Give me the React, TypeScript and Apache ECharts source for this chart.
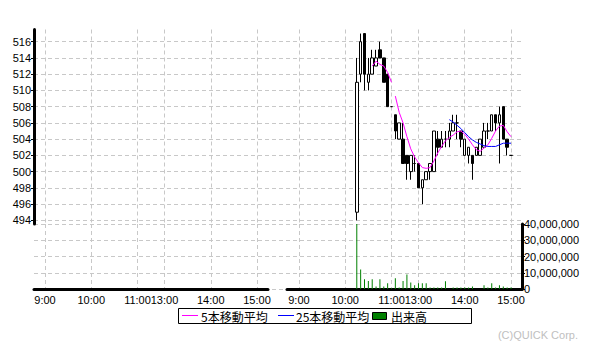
import React, { useEffect, useRef } from 'react';
import * as echarts from 'echarts';

// time axis: 5-minute slots, 9:00 = 0, 11:00 = 24, 12:30 = 25, 15:00 = 55
const timeTickSlots = [0, 12, 24, 31, 43, 55];
const timeTickLabels = ['9:00', '10:00', '11:00', '13:00', '14:00', '15:00'];
const priceTicks = [494, 496, 498, 500, 502, 504, 506, 508, 510, 512, 514, 516];

const candleSlots = [15, 16, 17, 18, 19, 20, 21, 22, 23, 24,
  25, 26, 27, 28, 29, 30, 31, 32, 33, 34, 35, 36, 37, 38, 39, 40,
  41, 42, 43, 44, 45, 46, 47, 48, 49, 50, 51, 52, 53, 54, 55];
const openPrices = [495, 512, 517, 511, 512, 513, 515, 514, 512, 508,
  507, 504, 504, 502, 500, 501, 501, 498, 499, 500, 500, 504, 503, 504, 504, 505,
  506, 505, 502, 502, 502, 502, 502, 503, 505, 505, 507, 506, 508, 504, 502];
const closePrices = [511, 516, 512, 512, 514, 514, 514, 511, 508, 508,
  505, 506, 501, 501, 502, 501, 498, 499, 500, 501, 505, 503, 504, 504, 505, 506,
  506, 504, 504, 503, 501, 503, 504, 505, 505, 507, 506, 507, 504, 503, 502];
const lowPrices = [494, 511, 510, 510, 512, 513, 514, 511, 508, 508,
  504, 504, 501, 499, 499, 500, 498, 496, 499, 499, 500, 502, 503, 503, 503, 505,
  504, 503, 502, 501, 499, 502, 502, 503, 504, 505, 505, 501, 504, 502, 502];
const highPrices = [514, 517, 517, 514, 515, 515, 516, 514, 512, 508,
  507, 506, 506, 502, 502, 502, 501, 499, 500, 501, 505, 505, 505, 505, 506, 507,
  507, 505, 504, 503, 502, 503, 504, 506, 506, 507, 507, 508, 508, 504, 502];

const volumeSlots = [15, 16, 17, 18, 19, 20, 21, 22, 23, 24,
  25, 26, 27, 28, 29, 30, 31, 32, 33, 34, 35, 36, 37, 38,
  40, 41, 42, 43, 44, 45, 48, 49, 50, 51, 52, 53, 54, 55];
const volumes = [40000000, 12000000, 6000000, 5000000, 6000000, 1600000, 6000000, 1600000, 3500000, 500000,
  6600000, 1000000, 5000000, 9000000, 4000000, 2300000, 3500000, 3500000, 3500000, 1000000, 1000000, 1000000, 1000000, 4700000,
  1000000, 1000000, 1000000, 1000000, 1000000, 1600000, 2300000, 1000000, 3500000, 1000000, 2300000, 1600000, 1000000, 1000000];

const ma5Slots = [19, 20, 21, 22, 23, 24, 24.5,
  25, 26, 27, 28, 29, 30, 31, 32, 33, 34, 35, 36, 37, 38, 39, 40,
  41, 42, 43, 44, 45, 46, 47, 48, 49, 50, 51, 52, 53, 54, 55];
const ma5Values = [513.0, 513.6, 513.2, 513.0, 512.2, 511.0, null,
  509.3, 507.3, 506.0, 504.3, 502.8, 501.8, 501.1, 500.5, 500.4, 500.5, 501.3, 502.3, 503.1, 503.8, 504.2, 504.5,
  504.9, 505.0, 504.6, 504.0, 503.3, 502.7, 502.5, 502.9, 503.3, 504.1, 505.0, 505.6, 505.7, 504.9, 504.3];

const ma25Slots = [39, 40, 41, 42, 43, 44, 45, 46, 47, 48, 49, 50, 51, 52, 53, 54, 55];
const ma25Values = [506.4, 506.1, 505.7, 505.3, 504.8, 504.3, 503.9, 503.6, 503.4, 503.2,
  503.1, 503.1, 503.1, 503.3, 503.5, 503.5, 503.5];

const legendLabels = ['5本移動平均', '25本移動平均', '出来高'];
const copyright = '(C)QUICK Corp.';

const FONT = "'Liberation Sans', Arial, sans-serif";
const CJK = "'Noto Sans CJK JP', 'Liberation Sans', sans-serif";
const GRID_LINE = { color: '#c8c8c8', type: [4, 3] as any, width: 1 };
const PRICE_MIN = 493.55;
const PRICE_MAX = 517.5;
const X_MAX = 57.85;

function timeLabel(v: number) {
  const i = timeTickSlots.indexOf(Math.round(v));
  return i >= 0 ? timeTickLabels[i] : '';
}

function dayXAxis(gridIndex: number, min: number, withAxis: boolean) {
  return {
    type: 'value', gridIndex, min, max: X_MAX,
    axisLine: { show: withAxis, onZero: false, lineStyle: { color: '#000', width: 3 } },
    axisTick: { show: false, customValues: timeTickSlots },
    axisLabel: {
      show: withAxis, customValues: timeTickSlots, formatter: timeLabel,
      fontSize: 11, color: '#000', fontFamily: FONT, margin: 5,
    },
    splitLine: { show: true, lineStyle: GRID_LINE },
  };
}

export default function App() {
  const ref = useRef<HTMLDivElement>(null);
  useEffect(() => {
    if (!ref.current) return;
    const chart = echarts.init(ref.current, undefined, { renderer: 'svg' });
    const grids = [
      { left: 34, top: 29.5, width: 488, height: 194.5 },
      { left: 34, top: 29.5, width: 234, height: 194.5 },
      { left: 287, top: 29.5, width: 235, height: 194.5 },
      { left: 34, top: 224, width: 488, height: 65 },
      { left: 34, top: 224, width: 234, height: 65 },
      { left: 287, top: 224, width: 235, height: 65 },
    ].map(g => ({ ...g, outerBoundsMode: 'none', containLabel: false }));

    const option: any = {
      animation: false,
      backgroundColor: '#fff',
      grid: grids,
      xAxis: [
        { type: 'value', gridIndex: 0, min: 0, max: 1, show: false },
        dayXAxis(1, -2.85, false),
        dayXAxis(2, -3.1, false),
        { type: 'value', gridIndex: 3, min: 0, max: 1, show: false },
        dayXAxis(4, -2.85, true),
        dayXAxis(5, -3.1, true),
      ],
      yAxis: [
        {
          type: 'value', gridIndex: 0, min: PRICE_MIN, max: PRICE_MAX,
          axisLine: { show: false, onZero: false }, axisTick: { show: false, customValues: priceTicks },
          axisLabel: { show: false, customValues: priceTicks },
          splitLine: { show: true, lineStyle: GRID_LINE },
        },
        {
          type: 'value', gridIndex: 1, min: PRICE_MIN, max: PRICE_MAX, position: 'left',
          axisLine: { show: true, onZero: false, lineStyle: { color: '#000', width: 3 } },
          axisTick: { show: true, length: 3, customValues: priceTicks, lineStyle: { color: '#000', width: 1 } },
          axisLabel: { show: true, customValues: priceTicks, fontSize: 11, color: '#000', fontFamily: FONT, margin: 3 },
          splitLine: { show: false },
        },
        { type: 'value', gridIndex: 2, min: PRICE_MIN, max: PRICE_MAX, show: false, axisLine: { onZero: false } },
        {
          type: 'value', gridIndex: 3, min: 0, max: 40000000, interval: 10000000,
          axisLine: { show: false, onZero: false }, axisTick: { show: false }, axisLabel: { show: false },
          splitLine: { show: true, lineStyle: GRID_LINE },
        },
        { type: 'value', gridIndex: 4, min: 0, max: 40000000, show: false, axisLine: { onZero: false } },
        {
          type: 'value', gridIndex: 5, min: 0, max: 40000000, interval: 10000000, position: 'right',
          axisLine: { show: true, onZero: false, lineStyle: { color: '#000', width: 3 } },
          axisTick: { show: true, length: 3, lineStyle: { color: '#000', width: 1 } },
          axisLabel: {
            show: true, fontSize: 11, color: '#000', fontFamily: FONT, margin: 2,
            formatter: (v: number) => v.toLocaleString('en-US'),
          },
          splitLine: { show: false },
        },
      ],
      series: [
        {
          type: 'candlestick', xAxisIndex: 2, yAxisIndex: 2, barWidth: 3,
          data: candleSlots.map((s, i) => [s, openPrices[i], closePrices[i], lowPrices[i], highPrices[i]]),
          itemStyle: {
            color: '#fff', color0: '#000', borderColor: '#000', borderColor0: '#000',
            borderColorDoji: '#000', borderWidth: 1,
          },
        },
        {
          type: 'line', name: legendLabels[0], xAxisIndex: 2, yAxisIndex: 2, symbol: 'none',
          connectNulls: false,
          data: ma5Slots.map((s, i) => [s, ma5Values[i]]),
          lineStyle: { color: '#ff00ff', width: 1 },
        },
        {
          type: 'line', name: legendLabels[1], xAxisIndex: 2, yAxisIndex: 2, symbol: 'none',
          data: ma25Slots.map((s, i) => [s, ma25Values[i]]),
          lineStyle: { color: '#0000ff', width: 1 },
        },
        {
          type: 'bar', name: legendLabels[2], xAxisIndex: 5, yAxisIndex: 5, barWidth: 1,
          data: volumeSlots.map((s, i) => [s, volumes[i]]),
          itemStyle: { color: '#008000' },
        },
      ],
      graphic: [
        { type: 'rect', shape: { x: 178.5, y: 308.5, width: 293, height: 15 }, style: { fill: '#fff', stroke: '#000', lineWidth: 1 } },
        { type: 'rect', shape: { x: 182, y: 315, width: 16, height: 1 }, style: { fill: '#ff00ff' } },
        { type: 'text', x: 201, y: 316, style: { text: legendLabels[0], font: `12px ${CJK}`, fill: '#000', verticalAlign: 'middle' } },
        { type: 'rect', shape: { x: 278, y: 315, width: 16, height: 1 }, style: { fill: '#0000ff' } },
        { type: 'text', x: 296, y: 316, style: { text: legendLabels[1], font: `12px ${CJK}`, fill: '#000', verticalAlign: 'middle' } },
        { type: 'rect', shape: { x: 372.5, y: 312.5, width: 14, height: 7 }, style: { fill: '#008000', stroke: '#000', lineWidth: 1 } },
        { type: 'text', x: 391, y: 316, style: { text: legendLabels[2], font: `12px ${CJK}`, fill: '#000', verticalAlign: 'middle' } },
        { type: 'text', x: 578, y: 335, style: { text: copyright, font: `11px ${FONT}`, fill: '#c0c0c0', align: 'right', verticalAlign: 'middle' } },
      ],
    };
    chart.setOption(option);
    return () => chart.dispose();
  }, []);
  return (
    <div
      ref={ref}
      style={{ position: 'fixed', left: 0, top: 0, width: 590, height: 345, background: '#fff' }}
    />
  );
}
